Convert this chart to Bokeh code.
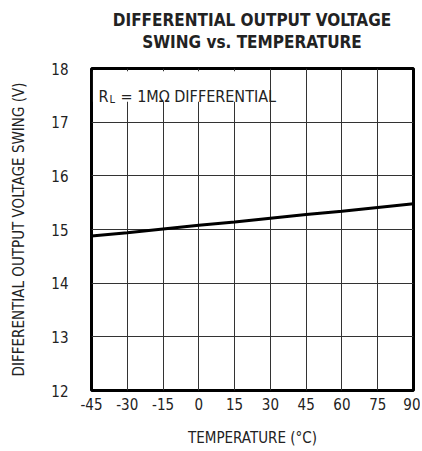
import numpy as np
from bokeh.plotting import figure
from bokeh.layouts import column
from bokeh.models import Label, FixedTicker, Div
from bokeh.core.properties import value
from bokeh.embed import file_html
from bokeh.resources import INLINE

# ---- data ----
temps = [-45, -30, -15, 0, 15, 30, 45, 60, 75, 90]
swing = [14.88, 14.94, 15.01, 15.08, 15.14, 15.21, 15.28, 15.34, 15.41, 15.48]
x_ticks = [-45, -30, -15, 0, 15, 30, 45, 60, 75, 90]
y_ticks = [12, 13, 14, 15, 16, 17, 18]
title_lines = ["DIFFERENTIAL OUTPUT VOLTAGE", "SWING vs. TEMPERATURE"]
x_label = "TEMPERATURE (°C)"
y_label = "DIFFERENTIAL OUTPUT VOLTAGE SWING (V)"

FONT = "'Liberation Sans Narrow', 'Arial Narrow', 'DejaVu Sans Condensed', sans-serif"
TXT = "#222222"

W = 420
DIV_H = 50
H = 449 - DIV_H
p = figure(width=W, height=H, x_range=(-45, 90), y_range=(12, 18),
           output_backend="svg", toolbar_location=None, title=None,
           min_border_left=91, min_border_right=7, min_border_top=68 - DIV_H,
           min_border_bottom=59)

p.outline_line_color = "black"
p.outline_line_width = 3
p.background_fill_color = "white"
p.border_fill_color = "white"

p.xaxis.ticker = FixedTicker(ticks=x_ticks)
p.yaxis.ticker = FixedTicker(ticks=y_ticks)
p.xaxis.major_label_overrides = {t: str(t) for t in x_ticks}
for ax in (p.xaxis[0], p.yaxis[0]):
    ax.axis_line_color = None
    ax.major_tick_line_color = None
    ax.minor_tick_line_color = None
    ax.major_tick_out = 0
    ax.major_tick_in = 0
    ax.major_label_text_font = FONT
    ax.major_label_text_font_size = "15px"
    ax.major_label_text_color = TXT
    ax.axis_label_text_font = FONT
    ax.axis_label_text_font_size = "15px"
    ax.axis_label_text_font_style = "normal"
    ax.axis_label_text_color = TXT

p.xaxis.axis_label = x_label
p.yaxis.axis_label = y_label
p.yaxis.major_label_standoff = 23
p.yaxis.axis_label_standoff = 20
p.xaxis.major_label_standoff = 7
p.xaxis.axis_label_standoff = 16

p.grid.grid_line_color = "#333333"
p.grid.grid_line_width = 1
p.grid.grid_line_alpha = 1.0

# white box behind annotation
p.quad(left=[-44.4], right=[29.6], top=[17.95], bottom=[17.38],
       fill_color="white", line_color=None)

# data line
p.line(temps, swing, line_color="black", line_width=3)

# annotation R_L = 1MΩ DIFFERENTIAL
p.add_layout(Label(x=-45, y=17.48, x_offset=7, text="R", text_font=FONT,
                   text_font_size="16px", text_color=TXT, text_baseline="alphabetic"))
p.add_layout(Label(x=-45, y=17.48, x_offset=18, y_offset=-3, text="L", text_font=FONT,
                   text_font_size="11px", text_color=TXT, text_baseline="alphabetic"))
p.add_layout(Label(x=-45, y=17.48, x_offset=29, text="= 1MΩ DIFFERENTIAL", text_font=FONT,
                   text_font_size="16px", text_color=TXT, text_baseline="alphabetic"))

# title (two centred lines over the plot frame)
title_html = (
    '<div style="margin-left:84px;width:336px;padding-top:9px;text-align:center;'
    'font-family:%s;font-weight:bold;font-size:17px;line-height:22px;color:%s;">'
    '%s<br>%s</div>' % (FONT.replace("'", ""), TXT, title_lines[0], title_lines[1])
)
title_div = Div(text=title_html, width=W, height=DIV_H, margin=(0, 0, 0, 0))

layout = column(title_div, p, spacing=0)
open("out.html", "w").write(file_html(layout, INLINE))
